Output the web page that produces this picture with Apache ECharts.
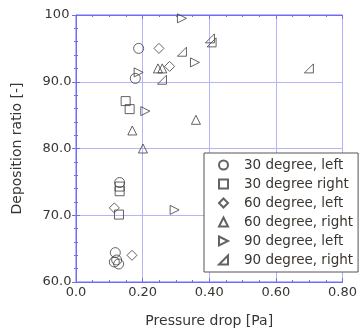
<!DOCTYPE html>
<html><head><meta charset="utf-8">
<script src="https://cdn.jsdelivr.net/npm/echarts@6/dist/echarts.min.js"></script>
<style>html,body{margin:0;padding:0;background:#fff}#c{width:360px;height:333px}</style>
</head><body><div id="c"></div>
<script>
// Data: [pressure drop (Pa), deposition ratio (-)]
const seriesNames = ['30 degree, left', '30 degree right', '60 degree, left', '60 degree, right', '90 degree, left', '90 degree, right'];
const deg30Left = [[0.188, 95.0], [0.178, 90.5], [0.131, 74.9], [0.118, 64.4], [0.115, 63.0], [0.128, 62.7], [0.122, 63.3]];
const deg30Right = [[0.149, 87.1], [0.161, 85.9], [0.131, 74.3], [0.131, 73.6], [0.129, 70.1]];
const deg60Left = [[0.249, 95.0], [0.281, 92.3], [0.115, 71.1], [0.168, 64.0]];
const deg60Right = [[0.246, 92.0], [0.259, 92.0], [0.169, 82.7], [0.201, 80.0], [0.360, 84.3]];
const deg90Left = [[0.188, 91.4], [0.208, 85.6], [0.318, 99.5], [0.357, 92.9], [0.296, 70.8]];
const deg90Right = [[0.258, 90.3], [0.318, 94.5], [0.402, 96.5], [0.407, 95.9], [0.699, 92.0]];
const xTicks = ['0.0', '0.20', '0.40', '0.60', '0.80'];
const yTicks = ['60.0', '70.0', '80.0', '90.0', '100'];

const FONT = 'DejaVu Sans';
const TXT = '#3a3530';
const FRAME = '#6e6ef2';
const GRIDC = '#b4b4fb';
const symbols = ['circle', 'rect', 'diamond', 'triangle', 'path://M0,0L10,5L0,10Z', 'path://M0,10L10,10L10,0Z'];
const sizes = [10, 9, 10, 9, 9, 9];
const datas = [deg30Left, deg30Right, deg60Left, deg60Right, deg90Left, deg90Right];

const chart = echarts.init(document.getElementById('c'), null, {renderer: 'canvas'});
const hidden = {show: false};
chart.setOption({
  animation: false,
  backgroundColor: '#fff',
  grid: {left: 76, right: 16, top: 15, bottom: 50, show: true, borderColor: FRAME, borderWidth: 1},
  legend: {
    data: seriesNames, orient: 'vertical', left: 204, top: 153,
    backgroundColor: '#fff', borderColor: '#555', borderWidth: 1, borderRadius: 0,
    padding: [5, 5, 5, 14], itemGap: 5, itemWidth: 9, itemHeight: 9,
    textStyle: {fontFamily: FONT, fontSize: 13.5, color: TXT, lineHeight: 14, padding: [0, 0, 0, 11]}
  },
  xAxis: [{
    type: 'value', min: 0, max: 0.8, interval: 0.2, position: 'bottom',
    name: 'Pressure drop [Pa]', nameLocation: 'middle', nameGap: 32,
    nameTextStyle: {fontFamily: FONT, fontSize: 14, color: TXT},
    axisLine: {show: true, lineStyle: {color: FRAME}},
    axisTick: {show: true, inside: true, length: 4, lineStyle: {color: FRAME}},
    minorTick: {show: true, splitNumber: 4, length: 2, lineStyle: {color: FRAME}},
    splitLine: {show: true, lineStyle: {color: GRIDC, width: 1}},
    axisLabel: {fontFamily: FONT, fontSize: 13, color: TXT, margin: 4,
      formatter: v => xTicks[Math.round(v / 0.2)]}
  }, {
    type: 'value', min: 0, max: 0.8, interval: 0.2, position: 'top',
    axisLine: {show: true, lineStyle: {color: FRAME}},
    axisTick: {show: true, inside: true, length: 4, lineStyle: {color: FRAME}},
    minorTick: {show: true, splitNumber: 4, length: 2, lineStyle: {color: FRAME}},
    splitLine: hidden, axisLabel: hidden
  }],
  yAxis: [{
    type: 'value', min: 60, max: 100, interval: 10, position: 'left',
    name: 'Deposition ratio [-]', nameLocation: 'middle', nameGap: 52, nameRotate: 90,
    nameTextStyle: {fontFamily: FONT, fontSize: 14, color: TXT},
    axisLine: {show: true, lineStyle: {color: FRAME}},
    axisTick: {show: true, inside: true, length: 4, lineStyle: {color: FRAME}},
    minorTick: {show: true, splitNumber: 5, length: 2, lineStyle: {color: FRAME}},
    splitLine: {show: true, lineStyle: {color: GRIDC, width: 1}},
    axisLabel: {fontFamily: FONT, fontSize: 13, color: TXT, margin: 19, align: 'center',
      formatter: v => yTicks[Math.round((v - 60) / 10)]}
  }, {
    type: 'value', min: 60, max: 100, interval: 10, position: 'right',
    axisLine: {show: true, lineStyle: {color: FRAME}},
    axisTick: {show: true, inside: true, length: 4, lineStyle: {color: FRAME}},
    minorTick: {show: true, splitNumber: 5, length: 2, lineStyle: {color: FRAME}},
    splitLine: hidden, axisLabel: hidden
  }],
  series: seriesNames.map((n, i) => ({
    name: n, type: 'scatter', data: datas[i], symbol: symbols[i], symbolSize: sizes[i],
    xAxisIndex: 0, yAxisIndex: 0,
    itemStyle: {color: 'rgba(255,255,255,0)', borderColor: '#3c3c3c', borderWidth: 1},
    emphasis: {disabled: true}
  }))
});
</script></body></html>
